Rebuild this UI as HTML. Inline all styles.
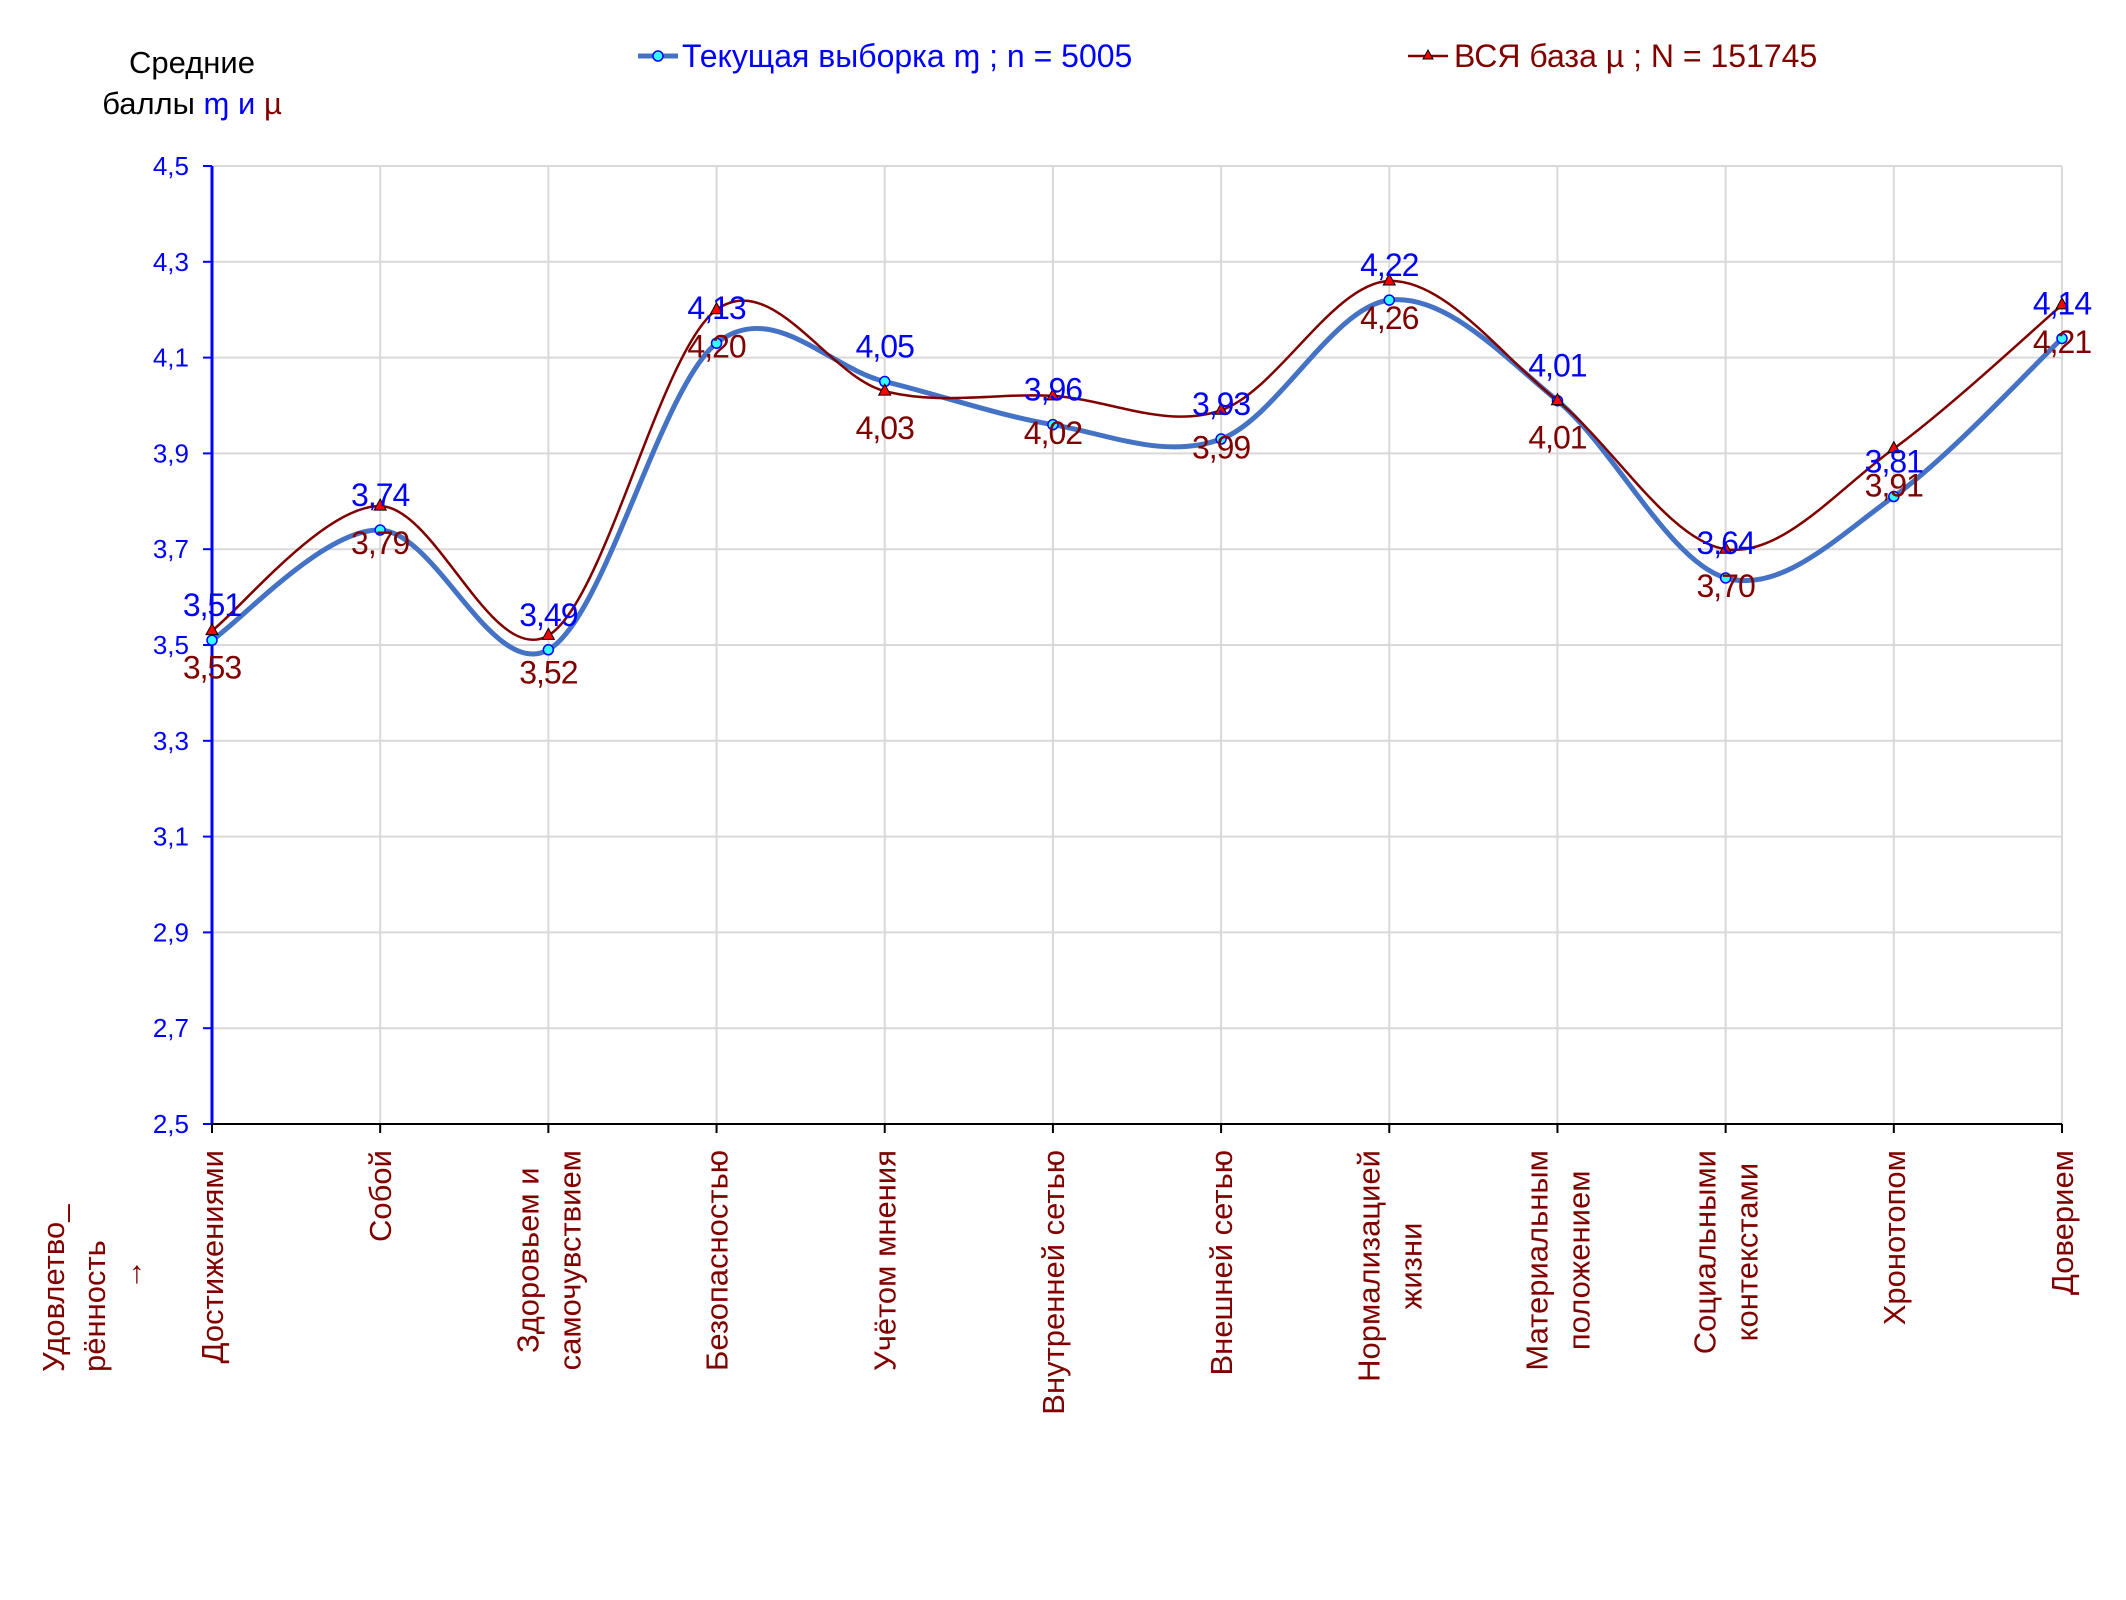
<!DOCTYPE html>
<html><head><meta charset="utf-8"><style>
html,body{margin:0;padding:0;background:#fff}
svg text{font-family:"Liberation Sans","DejaVu Sans",sans-serif}
</style></head><body>
<svg id="chart" width="2126" height="1595" viewBox="0 0 2126 1595" xmlns="http://www.w3.org/2000/svg">
<g id="grid"></g>
<g id="yaxis"></g>
<g id="xaxis"></g>
<g id="series"></g>
<g>
<text x="192" y="73" font-size="31" text-anchor="middle" fill="#000">Средние</text>
<text x="192" y="114" font-size="31" text-anchor="middle" fill="#000">баллы <tspan fill="#0000ff">ɱ и</tspan> <tspan fill="#800000">µ</tspan></text>
</g>
<g>
<g>
<line x1="638" y1="56" x2="678" y2="56" stroke="#4472c4" stroke-width="5"/>
<circle cx="658" cy="56" r="5" fill="#33ffff" stroke="#0000ff" stroke-width="1.5"/>
<text x="682" y="67" font-size="32" fill="#0000ff">Текущая выборка ɱ ; n = 5005</text>
</g>
<g>
<line x1="1408" y1="56" x2="1448" y2="56" stroke="#800000" stroke-width="2.5"/>
<polygon points="1428,50 1433,59 1423,59" fill="#ff0000" stroke="#000" stroke-width="1"/>
<text x="1454" y="67" font-size="32" fill="#800000">ВСЯ база µ ; N = 151745</text>
</g>
</g>
<g fill="#800000" font-size="31">
<text transform="translate(64,1372) rotate(-90)">Удовлетво_</text>
<text transform="translate(105,1372) rotate(-90)">рённость</text>
<text transform="translate(142,1290) rotate(-90)">→</text>
</g>
</svg>
<script>
const categories=[["Достижениями"],["Собой"],["Здоровьем и","самочувствием"],["Безопасностью"],["Учётом мнения"],["Внутренней сетью"],["Внешней сетью"],["Нормализацией","жизни"],["Материальным","положением"],["Социальными","контекстами"],["Хронотопом"],["Доверием"]];
const currentValues=[3.51,3.74,3.49,4.13,4.05,3.96,3.93,4.22,4.01,3.64,3.81,4.14];
const allValues=[3.53,3.79,3.52,4.20,4.03,4.02,3.99,4.26,4.01,3.70,3.91,4.21];
const yTicks=[2.5,2.7,2.9,3.1,3.3,3.5,3.7,3.9,4.1,4.3,4.5];
const yTickLabels=["2,5","2,7","2,9","3,1","3,3","3,5","3,7","3,9","4,1","4,3","4,5"];

const NS="http://www.w3.org/2000/svg";
const X0=212,X1=2062,Y0=1124,Y1=166,YMIN=2.5,YMAX=4.5;
const xpos=i=>X0+(X1-X0)*i/(categories.length-1);
const ypos=v=>Y0-(v-YMIN)/(YMAX-YMIN)*(Y0-Y1);
function mk(tag,attrs,parent){const e=document.createElementNS(NS,tag);for(const k in attrs)e.setAttribute(k,attrs[k]);parent.appendChild(e);return e;}
const grid=document.getElementById('grid'),yax=document.getElementById('yaxis'),xax=document.getElementById('xaxis'),ser=document.getElementById('series');

yTicks.forEach((t,i)=>{
 const y=ypos(t);
 if(i>0){const g=mk('line',{x1:X0,y1:y,x2:X1,y2:y,stroke:'#d9d9d9','stroke-width':2},grid);
 
 }
 const tk=mk('line',{x1:X0-9,y1:y,x2:X0,y2:y,stroke:'#0000ff','stroke-width':2},yax);
 
 
 const tl=mk('text',{x:189,y:y+9,'font-size':26,'text-anchor':'end',fill:'#0000ff'},yax);
 tl.textContent=yTickLabels[i];
 
 
});
categories.forEach((c,i)=>{
 const x=xpos(i);
 if(i>0){const g=mk('line',{x1:x,y1:Y1,x2:x,y2:Y0,stroke:'#d9d9d9','stroke-width':2},grid);
 
 }
 const tk=mk('line',{x1:x,y1:Y0,x2:x,y2:Y0+9,stroke:'#000','stroke-width':2},xax);
 
 
});
const ya=mk('line',{x1:X0,y1:Y1,x2:X0,y2:Y0,stroke:'#0000ff','stroke-width':3},yax);


const xa=mk('line',{x1:X0,y1:Y0,x2:X1,y2:Y0,stroke:'#000','stroke-width':2},xax);



categories.forEach((lines,i)=>{
 const x=xpos(i);
 const g=mk('g',{},xax);
 
 
 const n=lines.length;
 const els=lines.map((ln,j)=>{
   const bx=x+(j-(n-1)/2)*42+11;
   const t=mk('text',{'font-size':31,fill:'#800000'},g);
   t.textContent=ln;t._bx=bx;return t;});
 const lens=els.map(t=>t.getComputedTextLength());
 const maxL=Math.max(...lens);
 els.forEach((t,j)=>{
   const top=1150+(maxL-lens[j])/2;
   t.setAttribute('transform',`translate(${t._bx},${top+lens[j]}) rotate(-90)`);
 });
});

function smoothPath(vals){
 const p=vals.map((v,i)=>[xpos(i),ypos(v)]);
 let d=`M${p[0][0]},${p[0][1]}`;
 for(let i=0;i<p.length-1;i++){
  const p0=p[Math.max(i-1,0)],p1=p[i],p2=p[i+1],p3=p[Math.min(i+2,p.length-1)];
  const c1=[p1[0]+(p2[0]-p0[0])/6,p1[1]+(p2[1]-p0[1])/6];
  const c2=[p2[0]-(p3[0]-p1[0])/6,p2[1]-(p3[1]-p1[1])/6];
  d+=` C${c1[0]},${c1[1]} ${c2[0]},${c2[1]} ${p2[0]},${p2[1]}`;
 }
 return d;
}
const fmt=v=>v.toFixed(2).replace('.',',');

const lb=mk('path',{d:smoothPath(currentValues),fill:'none',stroke:'#4472c4','stroke-width':5},ser);


const lr=mk('path',{d:smoothPath(allValues),fill:'none',stroke:'#800000','stroke-width':2.5},ser);



currentValues.forEach((v,i)=>{
 const c=mk('circle',{cx:xpos(i),cy:ypos(v),r:5,fill:'#33ffff',stroke:'#0000ff','stroke-width':1.5},ser);
 
 
});
allValues.forEach((v,i)=>{
 const x=xpos(i),y=ypos(v);
 const t=mk('polygon',{points:`${x},${y-7} ${x+6},${y+4} ${x-6},${y+4}`,fill:'#ff0000',stroke:'#000','stroke-width':1},ser);
 
 
});
currentValues.forEach((v,i)=>{
 const t=mk('text',{x:xpos(i),y:ypos(v)-24,'font-size':32,'text-anchor':'middle',fill:'#0000ff','letter-spacing':'-1'},ser);
 t.textContent=fmt(v);
 
 
});
allValues.forEach((v,i)=>{
 const t=mk('text',{x:xpos(i),y:ypos(v)+48,'font-size':32,'text-anchor':'middle',fill:'#800000','letter-spacing':'-1'},ser);
 t.textContent=fmt(v);
 
 
});
</script>
</body></html>
